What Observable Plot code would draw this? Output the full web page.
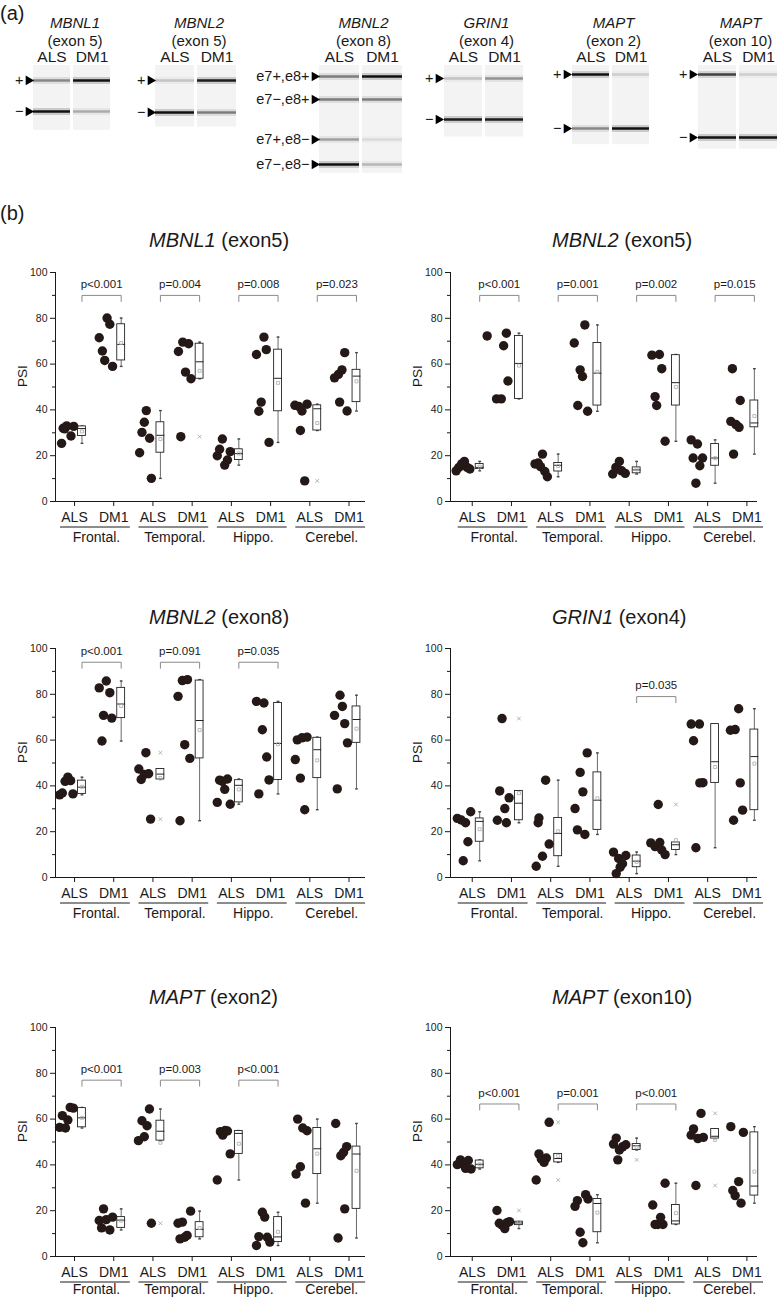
<!DOCTYPE html>
<html><head><meta charset="utf-8">
<script src="https://cdn.jsdelivr.net/npm/d3@7"></script>
<script src="https://cdn.jsdelivr.net/npm/@observablehq/plot@0.6"></script>
<style>
body{margin:0;background:#fff;}
#root{position:relative;width:779px;height:1297px;overflow:hidden;font-family:"Liberation Sans",Arial,sans-serif;color:#1a1a1a;}
.abs{position:absolute;white-space:nowrap;line-height:1;}
.abs svg{overflow:visible;}
</style></head><body><div id="root"></div>
<script>
// ---------------- DATA ----------------
const regions = ["Frontal.", "Temporal.", "Hippo.", "Cerebel."];
const groups = ["ALS", "DM1"];
const yMajor = [0, 20, 40, 60, 80, 100];
const yMinor = [10, 30, 50, 70, 90];

// PSI values: order = Frontal ALS, Frontal DM1, Temporal ALS, Temporal DM1, Hippo ALS, Hippo DM1, Cerebel ALS, Cerebel DM1
const mbnl1Ex5 = [
  [25.4, 32.0, 31.7, 33.0, 28.6, 32.8], [71.5, 65.7, 61.6, 80.1, 77.4, 59.0],
  [21.3, 30.2, 34.6, 39.7, 27.6, 10.1], [65.5, 28.3, 69.6, 56.5, 68.9, 53.6],
  [20.0, 22.8, 27.3, 15.9, 18.1, 21.8], [64.2, 39.4, 43.4, 71.8, 66.3, 25.8],
  [42.0, 41.5, 31.0, 39.5, 9.0, 42.5], [54.0, 55.5, 43.4, 57.5, 65.0, 39.5]];
const mbnl2Ex5 = [
  [13.4, 14.9, 16.4, 17.5, 14.9, 14.2], [72.3, 44.8, 44.8, 68.0, 73.5, 52.6],
  [16.4, 16.8, 15.2, 20.7, 13.1, 10.8], [69.2, 41.9, 57.5, 54.6, 77.1, 39.4],
  [12.0, 14.9, 14.2, 17.5, 13.4, 12.3], [63.9, 45.8, 41.9, 64.2, 58.0, 26.3],
  [26.9, 19.0, 8.0, 25.1, 15.6, 19.0], [35.0, 58.0, 20.7, 33.6, 32.4, 44.1]];
const mbnl2Ex8 = [
  [36.1, 36.9, 42.0, 43.8, 42.3, 36.5], [82.8, 59.6, 70.8, 85.8, 80.7, 69.6],
  [47.4, 42.8, 45.0, 54.5, 45.3, 25.5], [79.1, 24.8, 86.0, 58.0, 86.4, 52.0],
  [32.8, 42.5, 42.0, 38.5, 43.0, 32.0], [76.9, 36.5, 64.5, 76.2, 52.6, 42.6],
  [51.5, 60.1, 43.4, 61.0, 29.6, 61.3], [70.8, 38.7, 79.6, 74.7, 67.2, 58.8]];
const grin1Ex4 = [
  [25.8, 25.1, 7.3, 23.9, 15.6, 28.7], [25.0, 37.8, 69.4, 30.1, 23.9, 34.8],
  [4.9, 23.9, 26.0, 9.3, 42.5, 14.6], [30.1, 20.8, 45.9, 37.4, 18.8, 54.4],
  [11.1, 1.7, 8.3, 4.5, 6.0, 9.6], [15.1, 13.5, 31.9, 15.3, 12.0, 10.0],
  [67.0, 59.7, 13.0, 67.0, 41.3, 41.4], [64.3, 25.0, 64.6, 73.7, 41.3, 29.4]];
const maptEx2 = [
  [56.4, 61.5, 56.1, 59.6, 65.1, 64.8], [15.7, 12.5, 20.8, 16.1, 11.6, 17.2],
  [50.6, 59.3, 52.3, 57.1, 64.4, 14.5], [14.5, 7.7, 15.0, 8.4, 9.2, 19.8],
  [33.4, 54.5, 53.0, 55.0, 54.8, 44.8], [4.8, 8.7, 19.3, 17.2, 8.4, 6.3],
  [36.0, 60.0, 39.2, 56.1, 23.3, 54.9], [58.1, 8.1, 44.0, 45.5, 20.8, 48.0]];
const maptEx10 = [
  [40.1, 42.2, 40.4, 38.5, 41.9, 38.2], [20.1, 14.5, 13.7, 12.2, 14.8, 15.2],
  [33.4, 44.8, 42.6, 41.1, 43.0, 58.6], [21.9, 24.4, 10.6, 6.0, 27.0, 25.1],
  [49.1, 51.7, 42.2, 46.5, 47.9, 48.8], [22.5, 14.0, 14.0, 17.1, 14.0, 32.0],
  [53.0, 55.7, 31.0, 51.5, 62.5, 52.0], [56.7, 28.8, 26.6, 32.7, 23.3, 54.2]];

// horizontal scatter of each dot (fraction of category spacing)
const mbnl1Ex5Jit = [
  [-0.33,-0.29,-0.25,-0.2,-0.09,-0.02], [-0.37,-0.29,-0.23,-0.17,-0.1,-0.03],
  [-0.34,-0.28,-0.22,-0.17,-0.085,-0.04], [-0.35,-0.29,-0.24,-0.17,-0.09,-0.03],
  [-0.36,-0.3,-0.23,-0.17,-0.1,-0.03], [-0.36,-0.3,-0.24,-0.17,-0.11,-0.04],
  [-0.38,-0.28,-0.24,-0.2,-0.13,-0.07], [-0.37,-0.27,-0.24,-0.18,-0.11,-0.05]];
const mbnl2Ex5Jit = [
  [-0.41,-0.34,-0.27,-0.2,-0.13,-0.06], [-0.62,-0.38,-0.26,-0.2,-0.13,-0.09],
  [-0.4,-0.32,-0.26,-0.21,-0.15,-0.085], [-0.4,-0.31,-0.25,-0.19,-0.13,-0.06],
  [-0.42,-0.34,-0.3,-0.25,-0.19,-0.1], [-0.42,-0.34,-0.3,-0.23,-0.17,-0.085],
  [-0.42,-0.37,-0.3,-0.26,-0.2,-0.13], [-0.41,-0.37,-0.34,-0.28,-0.2,-0.17]];
const mbnl2Ex8Jit = [
  [-0.38,-0.31,-0.24,-0.17,-0.1,-0.04], [-0.37,-0.3,-0.26,-0.19,-0.1,-0.05],
  [-0.36,-0.3,-0.22,-0.18,-0.11,-0.06], [-0.36,-0.31,-0.25,-0.19,-0.12,-0.06],
  [-0.36,-0.3,-0.23,-0.17,-0.1,-0.03], [-0.36,-0.3,-0.21,-0.17,-0.1,-0.04],
  [-0.37,-0.32,-0.24,-0.2,-0.13,-0.07], [-0.37,-0.3,-0.23,-0.17,-0.11,-0.04]];
const grin1Ex4Jit = [
  [-0.38,-0.28,-0.23,-0.17,-0.11,-0.04], [-0.36,-0.3,-0.24,-0.17,-0.13,-0.06],
  [-0.37,-0.32,-0.3,-0.21,-0.13,-0.04], [-0.38,-0.32,-0.25,-0.18,-0.13,-0.07],
  [-0.4,-0.33,-0.27,-0.23,-0.17,-0.085], [-0.45,-0.34,-0.26,-0.22,-0.17,-0.085],
  [-0.42,-0.36,-0.3,-0.21,-0.2,-0.12], [-0.42,-0.34,-0.3,-0.21,-0.17,-0.11]];
const maptEx2Jit = [
  [-0.38,-0.31,-0.23,-0.17,-0.11,-0.03], [-0.37,-0.31,-0.26,-0.19,-0.1,-0.03],
  [-0.37,-0.28,-0.22,-0.15,-0.09,-0.04], [-0.36,-0.31,-0.25,-0.19,-0.13,-0.04],
  [-0.36,-0.28,-0.22,-0.16,-0.1,-0.03], [-0.36,-0.3,-0.21,-0.15,-0.085,-0.02],
  [-0.35,-0.31,-0.24,-0.18,-0.11,-0.07], [-0.34,-0.28,-0.21,-0.14,-0.11,-0.06]];
const maptEx10Jit = [
  [-0.38,-0.3,-0.23,-0.17,-0.1,-0.03], [-0.37,-0.31,-0.24,-0.17,-0.11,-0.05],
  [-0.37,-0.3,-0.24,-0.17,-0.11,-0.04], [-0.38,-0.32,-0.25,-0.18,-0.11,-0.05],
  [-0.4,-0.33,-0.29,-0.25,-0.17,-0.085], [-0.4,-0.34,-0.27,-0.2,-0.14,-0.085],
  [-0.42,-0.36,-0.3,-0.25,-0.17,-0.11], [-0.41,-0.36,-0.3,-0.21,-0.15,-0.09]];

// p-values per region (null = none) and bracket level (PSI)
const mbnl1Ex5P = ["p<0.001", "p=0.004", "p=0.008", "p=0.023"];
const mbnl2Ex5P = ["p<0.001", "p=0.001", "p=0.002", "p=0.015"];
const mbnl2Ex8P = ["p<0.001", "p=0.091", "p=0.035", null];
const grin1Ex4P = [null, null, "p=0.035", null];
const maptEx2P = ["p<0.001", "p=0.003", "p<0.001", null];
const maptEx10P = ["p<0.001", "p=0.001", "p<0.001", null];
const bracketLevels = [90, 90, 94, 79, 77, 66.6];

const panelGenes = ["MBNL1", "MBNL2", "MBNL2", "GRIN1", "MAPT", "MAPT"];
const panelExons = ["(exon5)", "(exon5)", "(exon8)", "(exon4)", "(exon2)", "(exon10)"];

// Gel (panel a)
const gelGenes = ["MBNL1", "MBNL2", "MBNL2", "GRIN1", "MAPT", "MAPT"];
const gelExons = ["(exon 5)", "(exon 5)", "(exon 8)", "(exon 4)", "(exon 2)", "(exon 10)"];
const gelBandLabels = [["+", "−"], ["+", "−"], ["e7+,e8+", "e7−,e8+", "e7+,e8−", "e7−,e8−"], ["+", "−"], ["+", "−"], ["+", "−"]];
const gelMigration = [[13.6, 41.8], [13.6, 42.7], [10, 30.9, 67.3, 90], [11.8, 49.1], [8.2, 57.3], [8.2, 65.5]];
const gelIntensityALS = [[0.45, 0.95], [0.2, 0.95], [0.5, 0.5, 0.35, 0.95], [0.2, 0.9], [0.95, 0.45], [0.75, 0.95]];
const gelIntensityDM1 = [[0.95, 0.3], [0.9, 0.5], [0.95, 0.5, 0.1, 0.25], [0.4, 0.9], [0.15, 0.95], [0.15, 0.95]];
const gelLength = [59, 56, 98, 65, 72, 76];

// ---------------- LAYOUT ----------------
const root = document.getElementById("root");
const FONT = '"Liberation Sans", Arial, sans-serif';
function addHTML(html, left, cy, size, opts = {}) {
  const d = document.createElement("div");
  d.className = "abs";
  d.innerHTML = html;
  d.style.fontSize = size + "px";
  d.style.top = (cy - 0.49 * size) + "px";
  d.style.left = left + "px";
  if (opts.center) d.style.transform = "translateX(-50%)";
  root.appendChild(d);
}
function place(svg, left, top) {
  const d = document.createElement("div");
  d.className = "abs";
  d.style.left = left + "px";
  d.style.top = top + "px";
  d.appendChild(svg);
  root.appendChild(d);
}

addHTML("(a)", 0, 13, 20);
addHTML("(b)", 0, 213, 20);

// ---- gels ----
const gelLeft = [33, 155, 319, 443, 571, 697];
const gelWidth = [78, 82, 83, 81, 79, 81];
for (let g = 0; g < 6; g++) {
  const mL = g === 2 ? 80 : 30;
  const bands = [];
  gelBandLabels[g].forEach((lab, j) => {
    bands.push({lane: "ALS", mig: gelMigration[g][j], dark: gelIntensityALS[g][j]});
    bands.push({lane: "DM1", mig: gelMigration[g][j], dark: gelIntensityDM1[g][j]});
  });
  const labels = gelBandLabels[g].map((lab, j) => ({mig: gelMigration[g][j], text: lab}));
  const svg = Plot.plot({
    width: mL + gelWidth[g] + 1, height: 140,
    marginTop: 25, marginBottom: 5, marginLeft: mL, marginRight: 1,
    style: {background: "transparent", fontFamily: FONT, overflow: "visible", color: "#1a1a1a"},
    x: {type: "band", domain: groups, paddingInner: 0.07, paddingOuter: 0, axis: null},
    y: {domain: [0, 100], reverse: true, axis: null},
    color: {type: "linear", domain: [0, 1], range: ["#f2f2f2", "#050505"]},
    marks: [
      Plot.barY(groups, {x: d => d, y1: 0, y2: () => gelLength[g], fill: "#f3f3f3"}),
      Plot.tickY(bands, {x: "lane", y: "mig", stroke: "dark", strokeWidth: 7, strokeOpacity: 0.18}),
      Plot.tickY(bands, {x: "lane", y: "mig", stroke: "dark", strokeWidth: 2.6}),
      Plot.dot(labels, {y: "mig", frameAnchor: "left", dx: -5, symbol: "triangle", rotate: 90, r: 3.6, fill: "#000", stroke: "none"}),
      Plot.text(labels, {y: "mig", frameAnchor: "left", dx: -10, textAnchor: "end", text: "text", fontSize: 14.5, fill: "#1a1a1a"}),
      Plot.axisX({anchor: "top", tickSize: 0, tickPadding: 4, fontSize: 15.5, label: null, fill: "#1a1a1a"})
    ]
  });
  place(svg, gelLeft[g] - mL, 40);
  const cx = gelLeft[g] + gelWidth[g] / 2 + 3;
  addHTML("<i>" + gelGenes[g] + "</i>", cx, 22, 15, {center: true});
  addHTML(gelExons[g], cx, 40, 15, {center: true});
}

// ---- box/scatter panels ----
const panels = [
  {psi: mbnl1Ex5, jit: mbnl1Ex5Jit, p: mbnl1Ex5P},
  {psi: mbnl2Ex5, jit: mbnl2Ex5Jit, p: mbnl2Ex5P},
  {psi: mbnl2Ex8, jit: mbnl2Ex8Jit, p: mbnl2Ex8P},
  {psi: grin1Ex4, jit: grin1Ex4Jit, p: grin1Ex4P},
  {psi: maptEx2, jit: maptEx2Jit, p: maptEx2P},
  {psi: maptEx10, jit: maptEx10Jit, p: maptEx10P}
];
const BOX = 0.19, HALF = 0.1;
function hinges(s) {
  const n = s.length;
  return [d3.median(s.slice(0, Math.ceil(n / 2))), d3.median(s.slice(Math.floor(n / 2)))];
}
function panelPlot(P, idx) {
  const col = idx % 2, row = Math.floor(idx / 2);
  const xdom = col === 0 ? [-0.485, 7.42] : [-0.554, 7.27];
  const mL = col === 0 ? 55 : 60;
  const mR = col === 0 ? 24 : 22;
  const groupDy = row === 2 ? 33 : 36;
  const obs = [];
  P.psi.forEach((arr, k) => arr.forEach((v, j) => obs.push({x: k + P.jit[k][j], v})));
  const stats = P.psi.map((arr, k) => {
    const s = arr.slice().sort(d3.ascending);
    const [q1, q3] = hinges(s);
    const iqr = q3 - q1;
    const inside = s.filter(v => v >= q1 - 1.5 * iqr && v <= q3 + 1.5 * iqr);
    return {bx: k + BOX, q1, q3, med: d3.median(s), mean: d3.mean(s),
      lo: d3.min(inside), hi: d3.max(inside), out: s.filter(v => !inside.includes(v))};
  });
  const outliers = stats.flatMap(d => d.out.map(v => ({bx: d.bx, v})));
  const caps = stats.flatMap(d => [{bx: d.bx, v: d.lo}, {bx: d.bx, v: d.hi}]);
  const lvl = bracketLevels[idx];
  const br = [];
  P.p.forEach((t, r) => { if (t) br.push({a: 2 * r + BOX, b: 2 * r + 1 + BOX, t}); });
  const brEnds = br.flatMap(d => [{x: d.a}, {x: d.b}]);
  return Plot.plot({
    width: 389, height: 297, marginTop: 20, marginBottom: 48, marginLeft: mL, marginRight: mR,
    style: {background: "transparent", fontFamily: FONT, overflow: "visible", color: "#1a1a1a"},
    x: {domain: xdom, axis: null},
    y: {domain: [0, 100], axis: null},
    marks: [
      Plot.axisY({ticks: yMajor, tickSize: 5, tickPadding: 3, fontSize: 10.5, label: null, fill: "#222"}),
      Plot.axisY({ticks: yMinor, tickSize: 3, tickFormat: () => "", label: null}),
      Plot.axisX({ticks: d3.range(8), tickFormat: k => groups[k % 2], tickSize: 5, tickPadding: 6, fontSize: 14, label: null, fill: "#1a1a1a"}),
      Plot.ruleY([0], {stroke: "#1a1a1a"}),
      Plot.ruleX([xdom[0]], {y1: 0, y2: 100, stroke: "#1a1a1a"}),
      Plot.link(regions, {x1: (d, i) => 2 * i + 0.52 - 0.89, x2: (d, i) => 2 * i + 0.52 + 0.89, y1: 0, y2: 0, dy: 25.5, stroke: "#1a1a1a"}),
      Plot.text(regions, {x: (d, i) => 2 * i + 0.56, y: 0, dy: groupDy, text: d => d, fontSize: 14, fill: "#1a1a1a"}),
      Plot.text(["PSI"], {frameAnchor: "left", dx: -33, rotate: -90, text: d => d, fontSize: 13.5, fill: "#1a1a1a"}),
      // brackets
      Plot.link(br, {x1: "a", x2: "b", y1: lvl, y2: lvl, stroke: "#8a8a8a"}),
      Plot.link(brEnds, {x1: "x", x2: "x", y1: lvl, y2: lvl - 2.8, stroke: "#8a8a8a"}),
      Plot.text(br, {x: d => (d.a + d.b) / 2, y: lvl, dy: -11, text: "t", fontSize: 11.5, fill: "#1a1a1a"}),
      // box plots
      Plot.ruleX(stats, {x: "bx", y1: "lo", y2: "hi", stroke: "#6a6a6a", strokeWidth: 1}),
      Plot.link(caps, {x1: d => d.bx - 0.035, x2: d => d.bx + 0.035, y1: "v", y2: "v", stroke: "#444", strokeWidth: 1.4}),
      Plot.rect(stats, {x1: d => d.bx - HALF, x2: d => d.bx + HALF, y1: "q1", y2: "q3", fill: "white", stroke: "#222", strokeWidth: 0.9}),
      Plot.link(stats, {x1: d => d.bx - HALF, x2: d => d.bx + HALF, y1: "med", y2: "med", stroke: "#222", strokeWidth: 1}),
      Plot.dot(stats, {x: "bx", y: "mean", symbol: "square", r: 1.7, stroke: "#aaa", strokeWidth: 0.8, fill: "none"}),
      Plot.dot(outliers, {x: "bx", y: "v", symbol: "times", r: 1.8, stroke: "#aaa", strokeWidth: 0.9}),
      // individual samples
      Plot.dot(obs, {x: "x", y: "v", r: 4.7, fill: "#241917", stroke: "none"})
    ]
  });
}

const rowTops = [252, 628, 1007];
const titleCY = [240, 617, 997];
panels.forEach((P, idx) => {
  const col = idx % 2, row = Math.floor(idx / 2);
  place(panelPlot(P, idx), col * 390, rowTops[row]);
  addHTML("<i>" + panelGenes[idx] + "</i> " + panelExons[idx], col === 0 ? 149 : 552, titleCY[row], 20);
});
</script></body></html>
